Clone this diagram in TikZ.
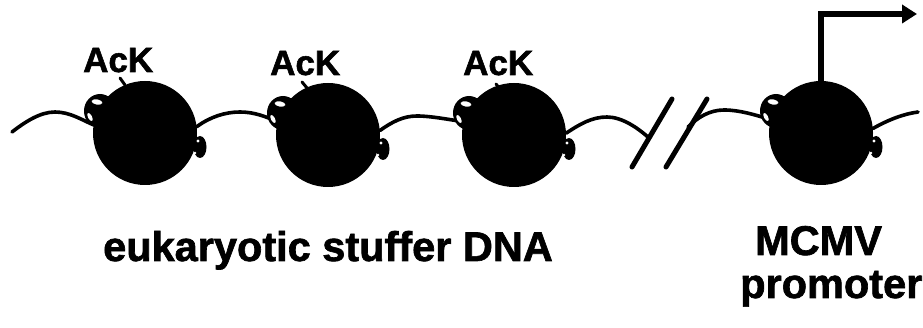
\documentclass[tikz,border=0pt]{standalone}
\usepackage{fontspec}
\setmainfont{Liberation Sans}
\newfontfamily\heavyfont{Liberation Sans Bold}[FakeBold=1.6]
\usetikzlibrary{arrows.meta}

% DNA wrapped around a histone core: a knot on the upper left, a small one on the right
\newcommand\wrapsat[1]{%
  \begin{scope}[shift={(#1)}]
    \fill[black] (-45,-22) ellipse [x radius=16, y radius=17];
    \fill[black] (55,14) ellipse [x radius=6.5, y radius=11];
    \fill[white,rotate around={-10:(-48,-31)}] (-48,-31) ellipse [x radius=5.5, y radius=2.6];
    \fill[white,rotate around={-62:(-55,-16)}] (-55,-16) ellipse [x radius=4.5, y radius=2];
    \fill[white] (53,8) circle [radius=1.6];
    \fill[white] (50,20) circle [radius=1.4];
  \end{scope}}

\begin{document}
\begin{tikzpicture}[x=1pt,y=-1pt,
  core/.style={circle,fill=black,inner sep=0pt,minimum size=104pt},
  dna/.style={line width=3.6pt,line cap=round},
  tail/.style={line width=3pt,line cap=round},
  cut/.style={line width=5pt,line cap=round},
  lbl/.style={inner sep=0pt,anchor=base west,font=\heavyfont\fontsize{35}{35}\selectfont},
  caption/.style={inner sep=0pt,anchor=base west,font=\heavyfont\fontsize{41.5}{41.5}\selectfont},
  tss/.style={line width=6pt,line join=miter,-{Triangle[length=15pt,width=18pt]}}
]
\useasboundingbox (0,0) rectangle (923,328);

% histone cores
\node[core] (n1) at (145,133) {};
\node[core] (n2) at (328,135) {};
\node[core] (n3) at (514,135) {};
\node[core] (n4) at (821,133) {};

% free ends of the DNA and the break marks
\coordinate (d0) at (12,132);
\coordinate (c1) at (649,138);
\coordinate (c2) at (688,127);
\coordinate (d5) at (918,112);
\coordinate (s1a) at (632,167);
\coordinate (s1b) at (672,99);
\coordinate (s2a) at (666,167);
\coordinate (s2b) at (707,99);
\coordinate (tip) at (917,14);

% linker DNA
\draw[dna] (d0) .. controls (25,122) and (40,112) .. (55,112)
  .. controls (70,112) and (82,120) .. (n1.171);
\draw[dna] (n1.7) .. controls (210,117) and (225,112) .. (240,112)
  .. controls (255,112) and (266,117) .. (n2.165);
\draw[dna] (n2.5) .. controls (392,122) and (403,116) .. (417,116)
  .. controls (432,116) and (450,120) .. (n3.165);
\draw[dna] (n3.2) .. controls (580,124) and (592,117) .. (607,117)
  .. controls (622,117) and (638,128) .. (c1);
\draw[dna] (c2) .. controls (698,117) and (710,110) .. (724,110)
  .. controls (740,110) and (755,115) .. (n4.165);
\draw[dna] (n4.5) .. controls (888,120) and (903,114) .. (d5);

% break in the sequence
\draw[cut] (s1a) -- (s1b);
\draw[cut] (s2a) -- (s2b);

% wrapped DNA on each core
\wrapsat{n1.center}
\wrapsat{n2.center}
\wrapsat{n3.center}
\wrapsat{n4.center}

% acetylated lysine tails
\draw[tail] ([shift={(-25,-55)}]n1.center) -- ([shift={(-20,-48)}]n1.center);
\draw[tail] ([shift={(-26,-53)}]n2.center) -- ([shift={(-21,-47)}]n2.center);
\draw[tail] ([shift={(-18,-51)}]n3.center) -- ([shift={(-14,-46)}]n3.center);

% transcription start
\draw[tss] ([yshift=-4pt]n4.north) |- (tip);

% labels
\node[lbl] (a1) at (83,72) {AcK};
\node[lbl] (a2) at (270,75) {AcK};
\node[lbl] (a3) at (463,75) {AcK};
\node[caption] (t1) at (103,261) {eukaryotic stuffer DNA};
\node[caption] (t2) at (755,255) {MCMV};
\node[caption] (t3) at (740,298) {promoter};
\end{tikzpicture}
\end{document}
